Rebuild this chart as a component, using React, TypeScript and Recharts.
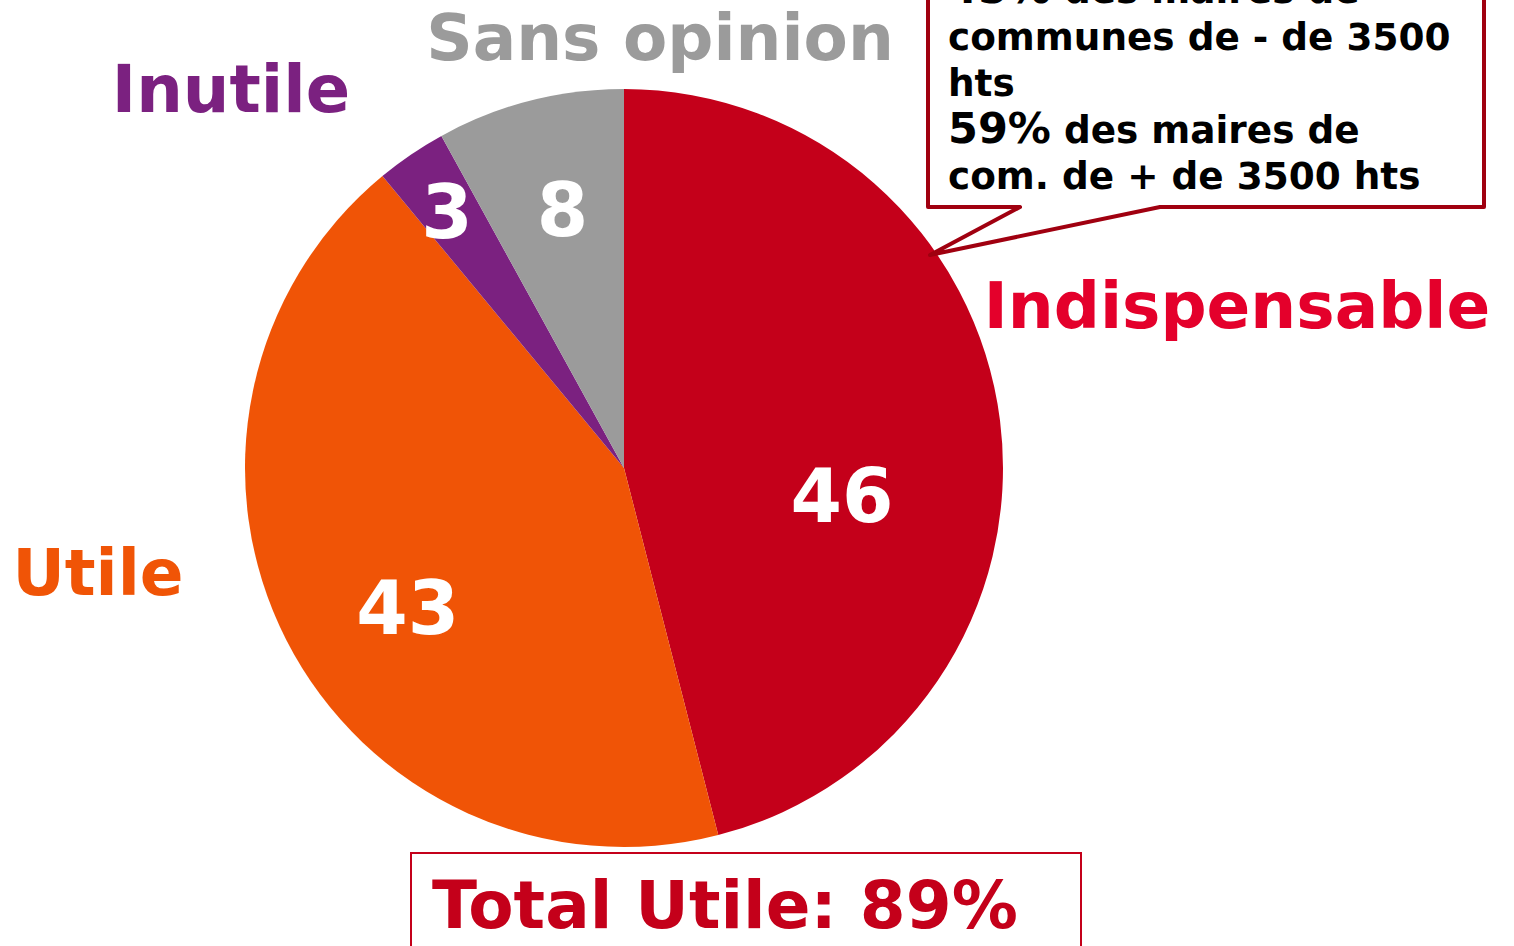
import { PieChart, Pie, Cell } from "recharts"

const categories = ["Indispensable", "Utile", "Inutile", "Sans opinion"]
const values = [46, 43, 3, 8]
const sliceColors = ["#C4001A", "#F05406", "#7B2180", "#9B9B9B"]
const nameColors = ["#E4002B", "#F05406", "#7B2180", "#9B9B9B"]

const calloutLines = [
  "45% des maires de",
  "communes de - de 3500",
  "hts",
  "59% des maires de",
  "com. de + de 3500 hts",
]
const totalText = "Total Utile: 89%"

// where each category name sits (text centre x, baseline y)
const namePos = [
  { x: 1237, y: 328 },
  { x: 98, y: 595 },
  { x: 231, y: 112 },
  { x: 660, y: 60 },
]

// inner value labels: fraction of radius, angle nudge (deg)
const labelRadius = [0.58, 0.68, 0.82, 0.7]
const labelShift = [-14.5, 6, 0.5, -1]

const W = 1514
const H = 946
const CX = 624
const CY = 468
const R = 379
const FONT = "'DejaVu Sans', Verdana, sans-serif"
const RAD = Math.PI / 180

const data = categories.map((name, i) => ({ name, value: values[i] }))

function ValueLabel(props: any) {
  const { cx, cy, midAngle, outerRadius, index, value } = props
  const a = (midAngle + labelShift[index]) * RAD
  const r = outerRadius * labelRadius[index]
  const x = cx + r * Math.cos(a)
  const y = cy - r * Math.sin(a)
  return (
    <text
      x={x}
      y={y}
      fill="#ffffff"
      fontFamily={FONT}
      fontWeight="bold"
      fontSize={74}
      textAnchor="middle"
      dominantBaseline="central"
    >
      {value}
    </text>
  )
}

export default function App() {
  return (
    <div style={{ position: "absolute", left: 0, top: 0, width: W, height: H, background: "#fff", overflow: "hidden" }}>
      <PieChart width={W} height={H} margin={{ top: 0, right: 0, bottom: 0, left: 0 }}>
        <Pie
          data={data}
          dataKey="value"
          nameKey="name"
          cx={CX}
          cy={CY}
          outerRadius={R}
          startAngle={90}
          endAngle={-270}
          stroke="none"
          labelLine={false}
          label={ValueLabel}
          isAnimationActive={false}
        >
          {data.map((d, i) => (
            <Cell key={d.name} fill={sliceColors[i]} />
          ))}
        </Pie>
      </PieChart>
      <svg width={W} height={H} style={{ position: "absolute", left: 0, top: 0, pointerEvents: "none" }}>
        {categories.map((c, i) => (
          <text
            key={c}
            x={namePos[i].x}
            y={namePos[i].y}
            fill={nameColors[i]}
            fontFamily={FONT}
            fontWeight="bold"
            fontSize={i === 2 ? 65.5 : 64.5}
            textAnchor="middle"
          >
            {c}
          </text>
        ))}

        <path
          d="M 928 -10 L 1484 -10 L 1484 207 L 1160 207 L 930 255 L 1020 207 L 928 207 Z"
          fill="#ffffff"
          stroke="#A00010"
          strokeWidth={4}
          strokeLinejoin="round"
        />
        {calloutLines.map((line, i) => {
          const big = line.indexOf("%") > 0
          const pct = big ? line.slice(0, line.indexOf("%") + 1) : ""
          const rest = big ? line.slice(line.indexOf("%") + 1) : line
          return (
            <text key={i} x={948} y={3 + i * 46.5} fill="#000" fontFamily={FONT} fontWeight="bold" fontSize={37.4}>
              {big && <tspan fontSize={43}>{pct}</tspan>}
              {rest}
            </text>
          )
        })}

        <rect x={411} y={853} width={670} height={120} fill="none" stroke="#C4001A" strokeWidth={2} />
        <text x={432} y={928} fill="#C4001A" fontFamily={FONT} fontWeight="bold" fontSize={66}>
          {totalText}
        </text>
      </svg>
    </div>
  )
}
